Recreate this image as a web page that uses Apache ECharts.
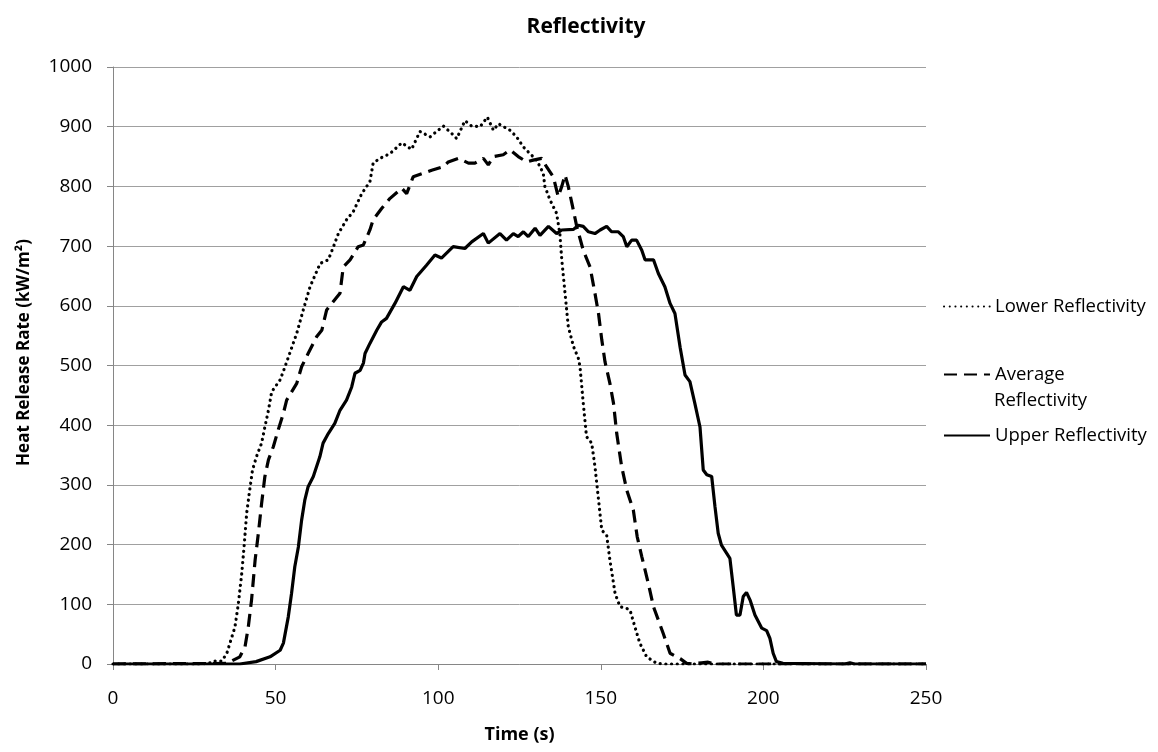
<!DOCTYPE html>
<html>
<head>
<meta charset="utf-8">
<script src="https://cdn.jsdelivr.net/npm/echarts@6/dist/echarts.min.js"></script>
<style>html,body{margin:0;padding:0;background:#fff;}#chart{width:1158px;height:752px;}</style>
</head>
<body>
<div id="chart"></div>
<script>
const chartTitle = 'Reflectivity';
const xAxisName = 'Time (s)';
const yAxisName = 'Heat Release Rate (kW/m²)';
const seriesNames = ['Lower Reflectivity', 'Average Reflectivity', 'Upper Reflectivity'];

const lowerTime = [0,27,30,31,33.5,35,37.5,38.5,39.6,40.3,41.1,41.9,42.9,44.1,45.7,46.7,47.8,48.8,51.4,52.9,56.5,58.5,60.6,63.7,66.2,67.8,69.3,71.8,73.9,76.5,79,80,82.1,85.2,88.8,91.8,94.4,97.5,101.6,104.1,105.7,108.2,110.3,112.9,115.1,117,118.5,122.1,124.1,126.2,128.2,130.3,132.3,132.8,134.4,136.4,137.4,138,139,140,141.6,143.1,143.6,144.6,145.6,147.2,148.2,149.3,150.3,151.8,152.8,154.4,155.9,158,159,160.5,162,164.1,167.2,170,250];
const lowerHRR = [0,0,2,5,5,18,62,99,152,196,252,286,325,347,370,397,425,456,476,498,554,593,632,671,677,699,721,744,758,788,808,839,847,855,873,862,892,883,901,889,880,910,901,900,916,894,905,894,883,866,855,844,822,800,777,755,721,677,621,565,532,512,498,437,381,370,331,275,224,216,174,118,96,93,90,62,35,12,1,0,0];

const averageTime = [0,35,39,40.6,41.6,42.6,43.7,44.7,45.7,46.7,47.8,49.3,50.8,52.4,53.4,56.5,58,60,62.6,64.2,65.7,69.8,70.8,72.9,75.4,77,79,80,82.6,85.2,88.8,90.3,92.3,95.4,98,101.6,103.1,106.2,109.3,111.3,113.9,115.4,117,120,122.1,124.6,127.2,129.2,131.8,133.3,135.4,136.9,138,139,140,141.1,142.6,144.6,146.7,148.2,149.3,150.3,151.3,152.8,153.9,154.9,156.4,158,160,161.2,162.6,164.6,166.2,169.2,171.3,174.4,176.4,178,181,183,185,250];
const averageHRR = [0,1,12,29,62,107,174,219,269,314,342,364,392,420,442,470,498,520,548,559,593,621,665,677,699,702,727,744,763,780,797,788,816,822,827,833,841,847,839,839,847,836,850,853,861,850,841,844,847,833,816,783,800,819,800,772,733,693,665,621,587,543,506,470,437,386,331,291,258,213,180,135,96,51,18,9,1,0,2,3,0,0];

const upperTime = [0,39,44,48.3,51.4,52.4,53.9,54.9,55.9,57,58,59,60,61.6,63.6,64.6,66.2,68.2,69.8,71.8,73.4,74.4,76,77,77.5,79,81.1,82.6,84.1,86.7,89.3,91.3,93.4,96.4,99,101,104.6,108.2,110.3,113.9,115.4,119,121,123.1,124.6,126.2,127.7,129.8,131.3,133.9,136.4,138,141.6,143.1,144.6,146.2,148.2,149.8,151.8,153.3,155.4,156.9,158,159.5,161,162.6,163.6,166.2,167.7,169.7,171.3,172.8,174.4,175.9,177.4,178.9,180.5,181.5,182.6,184.1,185.1,186.1,187.1,189.7,190.7,191.7,192.8,193.8,194.8,195.9,197.4,199.5,201,202,203,204,206,225,226.6,228,250];
const upperHRR = [0,0,4,12,23,35,79,118,163,196,241,275,297,314,347,370,386,403,425,442,464,487,492,504,520,537,559,573,579,604,632,626,649,668,685,680,699,696,707,721,705,721,710,721,716,724,716,730,718,733,721,727,728,735,733,724,721,727,733,724,724,716,699,710,710,693,677,677,654,632,604,587,530,484,473,437,397,325,317,314,264,219,199,177,130,82,82,113,120,107,82,60,56,43,18,4,1,0,2,0,0];

const xTicks = [0, 50, 100, 150, 200, 250];
const yTicks = [0, 100, 200, 300, 400, 500, 600, 700, 800, 900, 1000];

function zip(a, b) { return a.map((t, i) => [t, b[i]]); }

const FONT = 'Open Sans';
const chart = echarts.init(document.getElementById('chart'), null, {renderer: 'canvas'});

const legendBase = {
  orient: 'vertical', left: 943, padding: 0, itemWidth: 46, itemHeight: 14, itemGap: 0,
  itemStyle: {opacity: 0},
  textStyle: {fontFamily: FONT, fontSize: 18.5, color: '#000'},
  selectedMode: false
};

chart.setOption({
  animation: false,
  backgroundColor: '#fff',
  title: {
    text: chartTitle, left: 581, top: 12, textAlign: 'center',
    textStyle: {fontFamily: FONT, fontSize: 21, fontWeight: 'bold', color: '#000'}
  },
  grid: {left: 113, right: 232, top: 67, bottom: 88, containLabel: false},
  legend: [
    Object.assign({}, legendBase, {top: 297, data: [seriesNames[0]]}),
    Object.assign({}, legendBase, {top: 365, data: [seriesNames[1]], formatter: () => 'Average'}),
    Object.assign({}, legendBase, {top: 426, data: [seriesNames[2]]})
  ],
  graphic: [{
    type: 'text', left: 994, top: 391,
    style: {text: 'Reflectivity', font: '18.5px "Open Sans"', fill: '#000'}
  }],
  xAxis: {
    type: 'value', min: 0, max: 250, interval: 50,
    name: xAxisName, nameLocation: 'middle', nameGap: 62,
    nameTextStyle: {fontFamily: FONT, fontSize: 18, fontWeight: 'bold', color: '#000'},
    axisLine: {show: true, lineStyle: {color: '#868686', width: 1}},
    axisTick: {show: true, length: 6, lineStyle: {color: '#868686'}},
    axisLabel: {fontFamily: FONT, fontSize: 19, color: '#000', margin: 25,
      formatter: v => xTicks.includes(v) ? String(v) : ''},
    splitLine: {show: false}
  },
  yAxis: {
    type: 'value', min: 0, max: 1000, interval: 100,
    name: yAxisName, nameLocation: 'middle', nameGap: 80, nameRotate: 90,
    nameTextStyle: {fontFamily: FONT, fontSize: 17, fontWeight: 'bold', color: '#000', padding: [0, 0, 0, 26]},
    axisLine: {show: true, lineStyle: {color: '#868686', width: 1}},
    axisTick: {show: true, length: 6, lineStyle: {color: '#868686'}},
    axisLabel: {fontFamily: FONT, fontSize: 19, color: '#000', margin: 21,
      formatter: v => yTicks.includes(v) ? String(v) : ''},
    splitLine: {show: true, lineStyle: {color: '#a0a0a0', width: 1}}
  },
  series: [
    {
      name: seriesNames[0], type: 'line', symbol: 'none', smooth: false,
      data: zip(lowerTime, lowerHRR),
      lineStyle: {color: '#000', width: 3.2, type: [0.1, 5.6], cap: 'round'},
      itemStyle: {color: '#000'}, z: 3
    },
    {
      name: seriesNames[1], type: 'line', symbol: 'none', smooth: false,
      data: zip(averageTime, averageHRR),
      lineStyle: {color: '#000', width: 3.2, type: [13, 7], cap: 'butt'},
      itemStyle: {color: '#000'}, z: 3
    },
    {
      name: seriesNames[2], type: 'line', symbol: 'none', smooth: false,
      data: zip(upperTime, upperHRR),
      lineStyle: {color: '#000', width: 3.2, type: 'solid'},
      itemStyle: {color: '#000'}, z: 3
    }
  ]
});
</script>
</body>
</html>
